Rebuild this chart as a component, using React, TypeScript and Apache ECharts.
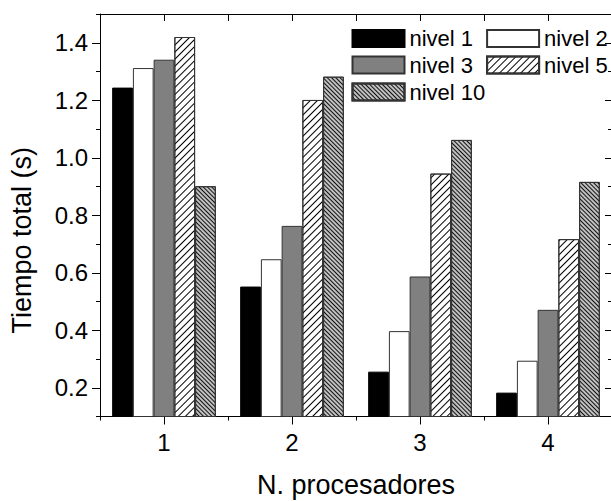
import React, { useEffect, useRef } from "react";
import * as echarts from "echarts";

const categories = ["1", "2", "3", "4"];
const seriesNames = ["nivel 1", "nivel 2", "nivel 3", "nivel 5", "nivel 10"];
const nivel1 = [1.244, 0.552, 0.256, 0.183];
const nivel2 = [1.312, 0.647, 0.397, 0.294];
const nivel3 = [1.341, 0.763, 0.587, 0.471];
const nivel5 = [1.42, 1.201, 0.945, 0.717];
const nivel10 = [0.901, 1.282, 1.062, 0.916];
const majorTicks = [0.2, 0.4, 0.6, 0.8, 1.0, 1.2, 1.4];
const minorTicks = [0.1, 0.3, 0.5, 0.7, 0.9, 1.1, 1.3, 1.5];

const FONT = "'Liberation Sans', Arial, Helvetica, sans-serif";

export default function App() {
  const ref = useRef<HTMLDivElement>(null);
  useEffect(() => {
    document.body.style.margin = "0";
    const chart = echarts.init(ref.current!, null, { renderer: "svg" });
    const lineStyle = { color: "#000", width: 1 };
    const legendBase = {
      left: 351.5,
      orient: "horizontal",
      padding: 0,
      itemWidth: 52,
      itemHeight: 17,
      itemGap: 13,
      icon: "rect",
      textStyle: { fontSize: 22, color: "#000", fontFamily: FONT },
    };
    const dataSets = [nivel1, nivel2, nivel3, nivel5, nivel10];
    const styles: any[] = [
      { color: "#000", borderColor: "#000", borderWidth: 1 },
      { color: "#fff", borderColor: "#333", borderWidth: 1 },
      { color: "#808080", borderColor: "#333", borderWidth: 1 },
      {
        color: "#fff",
        borderColor: "#333",
        borderWidth: 1,
        decal: {
          symbol: "rect",
          symbolSize: 1,
          dashArrayX: [1, 0],
          dashArrayY: [1, 4],
          rotation: -Math.PI / 4,
          color: "#000",
        },
      },
      {
        color: "#c0c0c0",
        borderColor: "#333",
        borderWidth: 1,
        decal: {
          symbol: "rect",
          symbolSize: 1,
          dashArrayX: [1, 0],
          dashArrayY: [1, 1.5],
          rotation: Math.PI / 4,
          color: "#111",
        },
      },
    ];
    chart.setOption({
      animation: false,
      backgroundColor: "#fff",
      textStyle: { fontFamily: FONT },
      grid: { left: 100, top: 14, width: 512, height: 402.5, outerBoundsMode: "none" },
      legend: [
        { ...legendBase, top: 27.5, data: ["nivel 1", "nivel 2"] },
        { ...legendBase, top: 54, data: ["nivel 3", "nivel 5"] },
        { ...legendBase, top: 81, data: ["nivel 10"] },
      ],
      xAxis: [
        {
          type: "category",
          data: categories,
          position: "bottom",
          axisLine: { show: true, lineStyle },
          axisTick: { show: true, alignWithLabel: true, length: 8, inside: false, lineStyle },
          axisLabel: { fontSize: 24, color: "#000", margin: 14, fontFamily: FONT },
          splitLine: { show: false },
          name: "N. procesadores",
          nameLocation: "middle",
          nameGap: 55,
          nameTextStyle: { fontSize: 27, color: "#000", fontFamily: FONT },
        },
        {
          type: "category",
          data: categories,
          position: "bottom",
          axisLine: { show: false },
          axisTick: { show: true, alignWithLabel: false, length: 4, inside: false, lineStyle },
          axisLabel: { show: false },
          splitLine: { show: false },
        },
        {
          type: "value",
          position: "top",
          min: 0.5,
          max: 4.5,
          interval: 0.5,
          axisLine: { show: true, lineStyle },
          axisTick: { show: true, length: 7, inside: true, lineStyle },
          axisLabel: { show: false },
          splitLine: { show: false },
        },
      ],
      yAxis: [
        {
          type: "value",
          position: "left",
          min: 0.1,
          max: 1.5,
          axisLine: { show: true, lineStyle },
          axisTick: { show: true, length: 8, inside: false, lineStyle, customValues: majorTicks },
          axisLabel: {
            fontSize: 24,
            color: "#000",
            margin: 12,
            fontFamily: FONT,
            customValues: majorTicks,
            formatter: (v: number) => v.toFixed(1),
          },
          splitLine: { show: false },
          name: "Tiempo total (s)",
          nameLocation: "middle",
          nameGap: 65,
          nameTextStyle: { fontSize: 27, color: "#000", fontFamily: FONT, padding: [0, 50, 0, 0] },
        },
        {
          type: "value",
          position: "left",
          min: 0.1,
          max: 1.5,
          axisLine: { show: false },
          axisTick: { show: true, length: 4, inside: false, lineStyle, customValues: minorTicks },
          axisLabel: { show: false },
          splitLine: { show: false },
        },
        {
          type: "value",
          position: "right",
          min: 0.1,
          max: 1.5,
          axisLine: { show: true, lineStyle },
          axisTick: { show: true, length: 7, inside: true, lineStyle, customValues: majorTicks },
          axisLabel: { show: false },
          splitLine: { show: false },
        },
        {
          type: "value",
          position: "right",
          min: 0.1,
          max: 1.5,
          axisLine: { show: false },
          axisTick: { show: true, length: 4, inside: true, lineStyle, customValues: minorTicks },
          axisLabel: { show: false },
          splitLine: { show: false },
        },
      ],
      series: seriesNames.map((name, i) => ({
        name,
        type: "bar",
        xAxisIndex: 0,
        yAxisIndex: 0,
        data: dataSets[i],
        barGap: "0%",
        barCategoryGap: "19%",
        itemStyle: styles[i],
        emphasis: { disabled: true },
      })),
    });
    return () => chart.dispose();
  }, []);
  return <div ref={ref} style={{ width: 611, height: 501 }} />;
}
